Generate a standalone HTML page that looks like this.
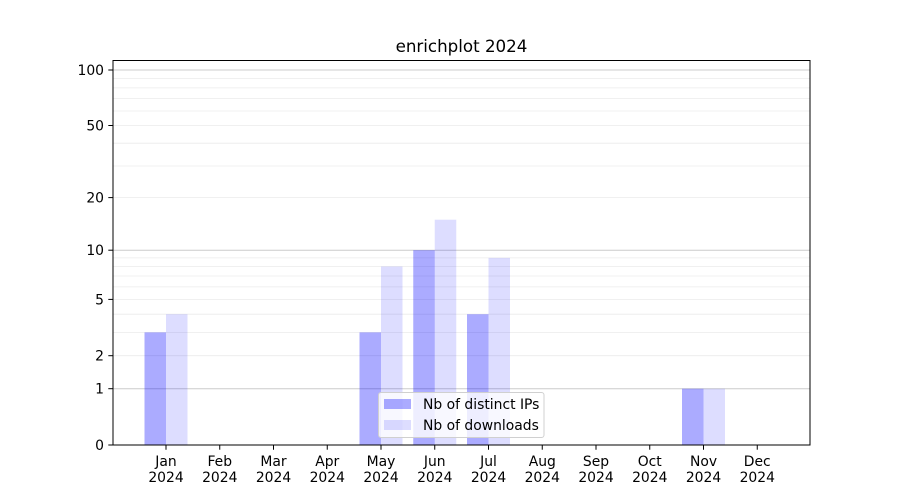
<!DOCTYPE html>
<html><head><meta charset="utf-8"><style>
html,body{margin:0;padding:0;background:#fff;}
svg{display:block;font-family:"DejaVu Sans","Liberation Sans",sans-serif;}
</style></head><body>
<svg width="900" height="500" viewBox="0 0 900 500" xmlns="http://www.w3.org/2000/svg">
<rect width="900" height="500" fill="#fff"/>
<!-- minor grid -->
<g stroke="#ebebeb" stroke-width="0.8">
<line x1="113" x2="810" y1="355.7" y2="355.7"/>
<line x1="113" x2="810" y1="332.35" y2="332.35"/>
<line x1="113" x2="810" y1="314.2" y2="314.2"/>
<line x1="113" x2="810" y1="299.4" y2="299.4"/>
<line x1="113" x2="810" y1="286.9" y2="286.9"/>
<line x1="113" x2="810" y1="276.0" y2="276.0"/>
<line x1="113" x2="810" y1="266.5" y2="266.5"/>
<line x1="113" x2="810" y1="257.9" y2="257.9"/>
<line x1="113" x2="810" y1="197.6" y2="197.6"/>
<line x1="113" x2="810" y1="166.0" y2="166.0"/>
<line x1="113" x2="810" y1="143.2" y2="143.2"/>
<line x1="113" x2="810" y1="125.5" y2="125.5"/>
<line x1="113" x2="810" y1="111.0" y2="111.0"/>
<line x1="113" x2="810" y1="98.6" y2="98.6"/>
<line x1="113" x2="810" y1="87.9" y2="87.9"/>
<line x1="113" x2="810" y1="78.5" y2="78.5"/>
</g>
<!-- major grid -->
<g stroke="#cccccc" stroke-width="1">
<line x1="113" x2="810" y1="388.7" y2="388.7"/>
<line x1="113" x2="810" y1="250.2" y2="250.2"/>
<line x1="113" x2="810" y1="70" y2="70"/>
</g>
<!-- bars -->
<g fill="rgba(0,0,255,0.33)">
<rect x="144.5" y="332.35" width="21.5" height="112.65"/>
<rect x="359.5" y="332.35" width="21.5" height="112.65"/>
<rect x="413.25" y="250.2" width="21.5" height="194.8"/>
<rect x="467" y="314.2" width="21.5" height="130.8"/>
<rect x="682" y="388.7" width="21.5" height="56.3"/>
</g>
<g fill="rgba(0,0,255,0.135)">
<rect x="166" y="314.2" width="21.5" height="130.8"/>
<rect x="381" y="266.5" width="21.5" height="178.5"/>
<rect x="434.75" y="219.7" width="21.5" height="225.3"/>
<rect x="488.5" y="257.9" width="21.5" height="187.1"/>
<rect x="703.5" y="388.7" width="21.5" height="56.3"/>
</g>
<!-- axes frame -->
<rect x="113" y="60.5" width="697" height="384.5" fill="none" stroke="#000" stroke-width="1"/>
<!-- y ticks -->
<g stroke="#000" stroke-width="1">
<line x1="108.3" x2="113" y1="445" y2="445"/>
<line x1="108.3" x2="113" y1="388.7" y2="388.7"/>
<line x1="108.3" x2="113" y1="355.7" y2="355.7"/>
<line x1="108.3" x2="113" y1="299.4" y2="299.4"/>
<line x1="108.3" x2="113" y1="250.2" y2="250.2"/>
<line x1="108.3" x2="113" y1="197.6" y2="197.6"/>
<line x1="108.3" x2="113" y1="125.5" y2="125.5"/>
<line x1="108.3" x2="113" y1="70" y2="70"/>
</g>
<g font-size="13.9" text-anchor="end" fill="#000">
<text x="104" y="450">0</text>
<text x="104" y="393.7">1</text>
<text x="104" y="360.7">2</text>
<text x="104" y="304.4">5</text>
<text x="104" y="255.2">10</text>
<text x="104" y="202.6">20</text>
<text x="104" y="130.5">50</text>
<text x="104" y="75">100</text>
</g>
<!-- x ticks -->
<g stroke="#000" stroke-width="1">
<line x1="166" x2="166" y1="445" y2="449.7"/>
<line x1="219.75" x2="219.75" y1="445" y2="449.7"/>
<line x1="273.5" x2="273.5" y1="445" y2="449.7"/>
<line x1="327.25" x2="327.25" y1="445" y2="449.7"/>
<line x1="381" x2="381" y1="445" y2="449.7"/>
<line x1="434.75" x2="434.75" y1="445" y2="449.7"/>
<line x1="488.5" x2="488.5" y1="445" y2="449.7"/>
<line x1="542.25" x2="542.25" y1="445" y2="449.7"/>
<line x1="596" x2="596" y1="445" y2="449.7"/>
<line x1="649.75" x2="649.75" y1="445" y2="449.7"/>
<line x1="703.5" x2="703.5" y1="445" y2="449.7"/>
<line x1="757.25" x2="757.25" y1="445" y2="449.7"/>
</g>
<g font-size="13.9" text-anchor="middle" fill="#000">
<text x="166" y="466">Jan</text><text x="166" y="482">2024</text>
<text x="219.75" y="466">Feb</text><text x="219.75" y="482">2024</text>
<text x="273.5" y="466">Mar</text><text x="273.5" y="482">2024</text>
<text x="327.25" y="466">Apr</text><text x="327.25" y="482">2024</text>
<text x="381" y="466">May</text><text x="381" y="482">2024</text>
<text x="434.75" y="466">Jun</text><text x="434.75" y="482">2024</text>
<text x="488.5" y="466">Jul</text><text x="488.5" y="482">2024</text>
<text x="542.25" y="466">Aug</text><text x="542.25" y="482">2024</text>
<text x="596" y="466">Sep</text><text x="596" y="482">2024</text>
<text x="649.75" y="466">Oct</text><text x="649.75" y="482">2024</text>
<text x="703.5" y="466">Nov</text><text x="703.5" y="482">2024</text>
<text x="757.25" y="466">Dec</text><text x="757.25" y="482">2024</text>
</g>
<!-- title -->
<text x="461.5" y="52" font-size="16.7" text-anchor="middle" fill="#000">enrichplot 2024</text>
<!-- legend -->
<rect x="378.5" y="392.5" width="165.5" height="45" rx="2.5" fill="rgba(255,255,255,0.8)" stroke="#d0d0d0" stroke-width="1"/>
<rect x="384" y="399" width="27" height="10" fill="rgba(0,0,255,0.33)"/>
<rect x="384" y="420" width="27" height="10" fill="rgba(0,0,255,0.135)"/>
<g font-size="13.9" fill="#000">
<text x="423" y="409">Nb of distinct IPs</text>
<text x="423" y="430">Nb of downloads</text>
</g>
</svg>
</body></html>
